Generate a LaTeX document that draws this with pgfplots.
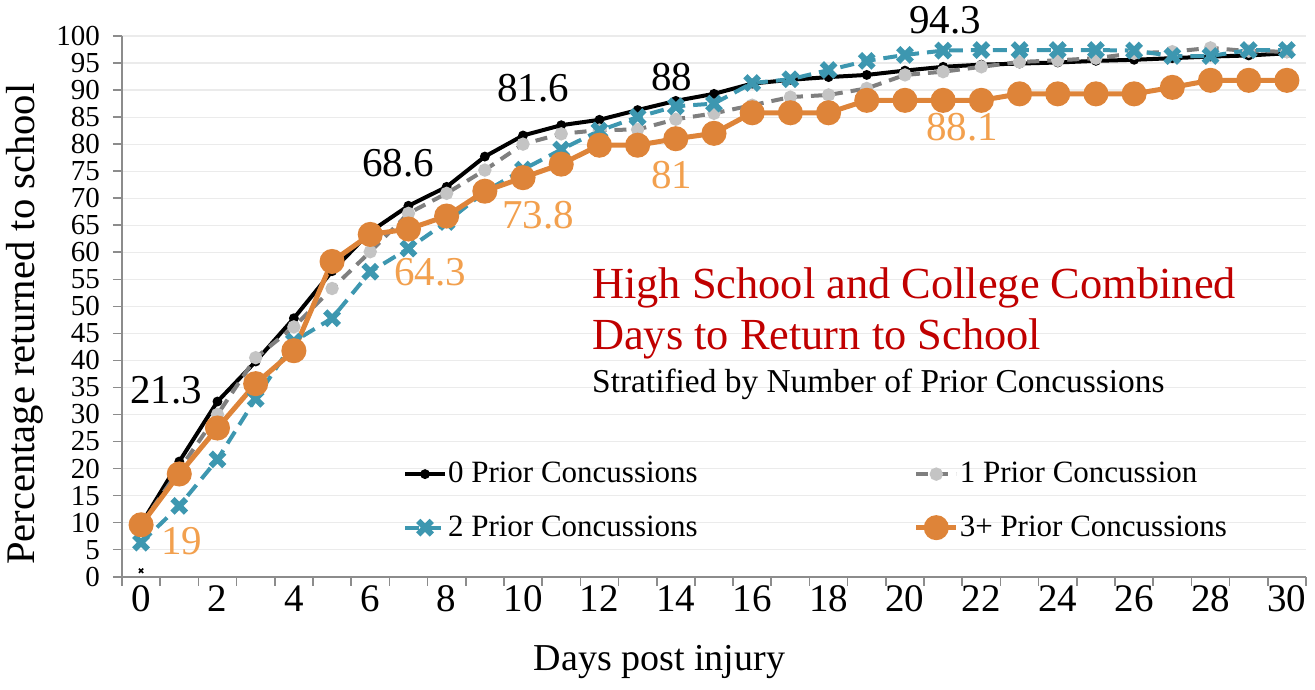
\documentclass[border=0pt]{standalone}
\usepackage{fontspec}
\setmainfont{Liberation Serif}
\usepackage{pgfplots}
\pgfplotsset{compat=1.18}
\definecolor{mygray}{HTML}{7F7F7F}
\definecolor{mylgray}{HTML}{C4C4C4}
\definecolor{myblue}{HTML}{3D97B0}
\definecolor{myorange}{HTML}{DE8439}
\definecolor{lblorange}{HTML}{F2A04E}
\definecolor{titlered}{HTML}{C00000}
\definecolor{axgray}{HTML}{8C8C8C}
\definecolor{gridgray}{HTML}{EBEBEB}
\begin{document}
\begin{tikzpicture}
\useasboundingbox (-61bp,-56.65bp) rectangle (596.5bp,288.35bp);
\begin{axis}[
  at={(0,0)}, anchor=south west,
  width=592bp, height=270.35bp, scale only axis,
  xmin=-0.5, xmax=30.5, ymin=0, ymax=100,
  axis x line*=bottom, axis y line*=left,
  axis line style={draw=axgray, line width=1bp},
  tick align=outside,
  xtick={-0.5,0.5,...,30.5}, xticklabels={},
  major tick length=4.5bp,
  every tick/.style={draw=axgray, line width=0.8bp},
  extra x ticks={0,2,...,30},
  extra x tick style={major tick length=0pt, xticklabel style={yshift=-1bp}},
  ytick={0,5,...,100},
  ymajorgrids, grid style={draw=gridgray, line width=0.6bp},
  /pgf/number format/assume math mode=true,
  xticklabel style={font=\fontsize{19.5bp}{22bp}\selectfont},
  yticklabel style={font=\fontsize{14.5bp}{17bp}\selectfont, xshift=-3bp},
  xlabel={Days post injury},
  ylabel={Percentage returned to school},
  xlabel style={font=\fontsize{19bp}{22bp}\selectfont, at={(axis description cs:0.454,0)}, anchor=center, yshift=-42.5bp},
  ylabel style={font=\fontsize{20.3bp}{23bp}\selectfont, at={(axis description cs:-0.082,0.467)}, anchor=center},
  clip=false,
  legend columns=2,
  legend cell align=left,
  legend style={at={(0.232,0.227)}, anchor=north west, draw=none, fill=none,
    font=\fontsize{15.5bp}{18bp}\selectfont,
    nodes={inner xsep=0.5bp},
    /tikz/every even column/.append style={column sep=107.5bp},
    row sep=11bp},
  legend image code/.code={\draw[mark repeat=2,mark phase=2,#1] plot coordinates {(0bp,0bp) (10bp,0bp) (20bp,0bp)};},
]
\addplot[black, line width=2bp, mark=*, mark size=1.4bp] coordinates {
(0,9.7) (1,21.3) (2,32.4) (3,39.8) (4,47.8) (5,56.5) (6,63.8) (7,68.6) (8,72.1) (9,77.7)
(10,81.6) (11,83.5) (12,84.5) (13,86.3) (14,88.0) (15,89.3) (16,91.2) (17,91.9) (18,92.4) (19,92.8)
(20,93.6) (21,94.3) (22,94.7) (23,94.9) (24,95.1) (25,95.4) (26,95.6) (27,95.9) (28,96.2) (29,96.4) (30,96.8)};
\addlegendentry{0 Prior Concussions}
\addplot[mygray, line width=2bp, dash pattern=on 6bp off 4bp, mark=*, mark size=2.3bp, mark options={solid, draw=mylgray, fill=mylgray}] coordinates {
(0,9.6) (1,19.8) (2,30.0) (3,40.5) (4,46.2) (5,53.3) (6,60.1) (7,67.2) (8,70.9) (9,75.2)
(10,80.0) (11,81.9) (12,82.6) (13,82.7) (14,84.6) (15,85.7) (16,87.2) (17,88.7) (18,89.1) (19,90.3)
(20,92.8) (21,93.4) (22,94.3) (23,95.2) (24,95.5) (25,95.9) (26,96.8) (27,97.1) (28,97.8) (29,97.2) (30,97.1)};
\addlegendentry{1 Prior Concussion}
\addplot[myblue, line width=2bp, dash pattern=on 7bp off 4bp, mark=x, mark size=4.8bp, mark options={solid, line width=3bp}] coordinates {
(0,6.3) (1,13.1) (2,21.7) (3,32.9) (4,43.5) (5,47.8) (6,56.4) (7,60.7) (8,65.6) (9,71.2)
(10,75.3) (11,79.0) (12,82.5) (13,85.0) (14,87.0) (15,87.5) (16,91.3) (17,92.0) (18,93.7) (19,95.4)
(20,96.5) (21,97.3) (22,97.4) (23,97.4) (24,97.4) (25,97.4) (26,97.3) (27,96.3) (28,96.3) (29,97.4) (30,97.4)};
\addlegendentry{2 Prior Concussions}
\addplot[myorange, line width=2.5bp, mark=*, mark size=5bp, mark options={fill=myorange}] coordinates {
(0,9.6) (1,19.0) (2,27.5) (3,35.7) (4,41.8) (5,58.3) (6,63.3) (7,64.3) (8,66.7) (9,71.3)
(10,73.8) (11,76.3) (12,79.8) (13,79.8) (14,81.0) (15,82.0) (16,85.8) (17,85.8) (18,85.8) (19,88.1)
(20,88.1) (21,88.1) (22,88.1) (23,89.3) (24,89.3) (25,89.3) (26,89.3) (27,90.5) (28,91.8) (29,91.8) (30,91.8)};
\addlegendentry{3+ Prior Concussions}
\addplot[black, only marks, mark=x, mark size=1.5bp, line width=0.8bp, forget plot] coordinates {(0,1.1)};
% data labels
\node[font=\fontsize{20.5bp}{24bp}\selectfont] at (axis cs:0.65,34.5) {21.3};
\node[font=\fontsize{20.5bp}{24bp}\selectfont] at (axis cs:6.73,76.5) {68.6};
\node[font=\fontsize{20.5bp}{24bp}\selectfont] at (axis cs:10.26,90.4) {81.6};
\node[font=\fontsize{20.5bp}{24bp}\selectfont] at (axis cs:13.9,92.4) {88};
\node[font=\fontsize{20.5bp}{24bp}\selectfont] at (axis cs:21.05,103) {94.3};
\node[font=\fontsize{20.5bp}{24bp}\selectfont, text=lblorange] at (axis cs:1.07,6.6) {19};
\node[font=\fontsize{20.5bp}{24bp}\selectfont, text=lblorange] at (axis cs:7.57,56.3) {64.3};
\node[font=\fontsize{20.5bp}{24bp}\selectfont, text=lblorange] at (axis cs:10.4,66.9) {73.8};
\node[font=\fontsize{20.5bp}{24bp}\selectfont, text=lblorange] at (axis cs:13.9,74.3) {81};
\node[font=\fontsize{20.5bp}{24bp}\selectfont, text=lblorange] at (axis cs:21.5,83.2) {88.1};
% titles
\node[anchor=west, inner sep=0pt, font=\fontsize{22.2bp}{26bp}\selectfont, text=titlered] at (axis cs:11.8,53.4) {High School and College Combined};
\node[anchor=west, inner sep=0pt, font=\fontsize{22.2bp}{26bp}\selectfont, text=titlered] at (axis cs:11.8,44.0) {Days to Return to School};
\node[anchor=west, inner sep=0pt, font=\fontsize{16.7bp}{19bp}\selectfont] at (axis cs:11.8,35.6) {Stratified by Number of Prior Concussions};
\end{axis}
\end{tikzpicture}
\end{document}
